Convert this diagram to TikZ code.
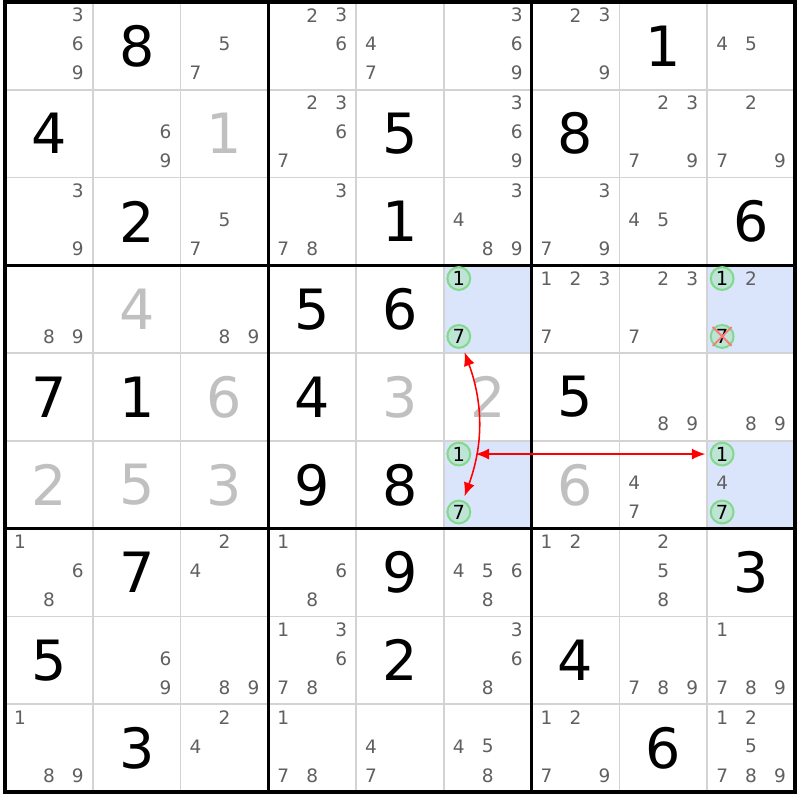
\documentclass[tikz,border=0pt]{standalone}
\usepackage{fontspec}
\setmainfont{DejaVu Sans}
\usepackage{tikz}
\usetikzlibrary{arrows.meta}
\definecolor{cellblue}{RGB}{218,228,250}
\definecolor{gridgray}{RGB}{211,211,211}
\definecolor{solvedgray}{RGB}{192,192,192}
\definecolor{candgray}{RGB}{96,96,96}
\definecolor{ringfill}{RGB}{190,228,214}
\definecolor{ringline}{RGB}{128,218,138}
\definecolor{crossred}{RGB}{255,120,120}
\tikzstyle{board}=[line cap=rect]
\tikzstyle{thin}=[draw=gridgray, line width=0.6pt]
\tikzstyle{box}=[draw=black, line width=1pt]
\tikzstyle{given}=[inner sep=0pt, font=\fontsize{18}{18}\selectfont, text=black]
\tikzstyle{solved}=[given, text=solvedgray]
\tikzstyle{cand}=[inner sep=0pt, font=\fontsize{6}{6}\selectfont, text=candgray]
\tikzstyle{ring}=[circle, inner sep=0pt, minimum size=7.4pt, draw=ringline, fill=ringfill, line width=0.65pt, font=\fontsize{6.3}{6.3}\selectfont, text=black]
\tikzstyle{link}=[red, line width=0.5pt, {Latex[length=4.4pt,width=3.6pt]}-{Latex[length=4.4pt,width=3.6pt]}, shorten >=1.4pt, shorten <=1.4pt]
\tikzstyle{cross}=[crossred, line width=0.6pt]

\begin{document}
\begin{tikzpicture}[board]
				\useasboundingbox[fill=white] (-0.057,-0.091) rectangle (9.057,9.023);
				
				%The shaded cells
				\foreach \r/\c in {4/6,6/6,4/9,6/9}
					\fill[cellblue] (\c-1,10-\r) rectangle (\c,9-\r);
				
				%The grid
				\foreach \i in {1,2,4,5,7,8} {
					\draw[thin] (\i,0) -- (\i,9);
					\draw[thin] (0,\i) -- (9,\i);
				}
				\foreach \i in {0,3,6,9} {
					\draw[box] (\i,0) -- (\i,9);
					\draw[box] (0,\i) -- (9,\i);
				}
				
				%The givens
				\foreach \r/\c/\d in {1/2/8,1/8/1,2/1/4,2/5/5,2/7/8,3/2/2,3/5/1,3/9/6,4/4/5,4/5/6,5/1/7,5/2/1,5/4/4,5/7/5,6/4/9,6/5/8,7/2/7,7/5/9,7/9/3,8/1/5,8/5/2,8/7/4,9/2/3,9/8/6}
					\draw (\c-0.5,9.5-\r) node[given] (g\r\c) {\d};
				
				%The solved cells
				\foreach \r/\c/\d in {2/3/1,4/2/4,5/3/6,5/5/3,5/6/2,6/1/2,6/2/5,6/3/3,6/7/6}
					\draw (\c-0.5,9.5-\r) node[solved] (s\r\c) {\d};
				
				%The candidates
				\foreach \r/\c/\ds in {1/1/{3,6,9},1/3/{5,7},1/4/{2,3,6},1/5/{4,7},1/6/{3,6,9},1/7/{2,3,9},1/9/{4,5},
						2/2/{6,9},2/4/{2,3,6,7},2/6/{3,6,9},2/8/{2,3,7,9},2/9/{2,7,9},
						3/1/{3,9},3/3/{5,7},3/4/{3,7,8},3/6/{3,4,8,9},3/7/{3,7,9},3/8/{4,5},
						4/1/{8,9},4/3/{8,9},4/7/{1,2,3,7},4/8/{2,3,7},4/9/{2},
						5/8/{8,9},5/9/{8,9},
						6/8/{4,7},6/9/{4},
						7/1/{1,6,8},7/3/{2,4},7/4/{1,6,8},7/6/{4,5,6,8},7/7/{1,2},7/8/{2,5,8},
						8/2/{6,9},8/3/{8,9},8/4/{1,3,6,7,8},8/6/{3,6,8},8/8/{7,8,9},8/9/{1,7,8,9},
						9/1/{1,8,9},9/3/{2,4},9/4/{1,7,8},9/5/{4,7},9/6/{4,5,8},9/7/{1,2,7,9},9/9/{1,2,5,7,8,9}}
					\foreach \d in \ds {
						\pgfmathsetmacro{\cx}{\c-0.83+0.33*mod(\d-1,3)}
						\pgfmathsetmacro{\cy}{9.85-\r-0.33*div(\d-1,3)}
						\draw (\cx,\cy) node[cand] (k\r\c\d) {\d};
					}
				
				%The chain
				\draw (5.17,5.85) node[ring] (k461) {1};
				\draw (5.17,5.19) node[ring] (k467) {7};
				\draw (5.17,3.85) node[ring] (k661) {1};
				\draw (5.17,3.19) node[ring] (k667) {7};
				\draw (8.17,5.85) node[ring] (k491) {1};
				\draw (8.17,5.19) node[ring] (k497) {7};
				\draw (8.17,3.85) node[ring] (k691) {1};
				\draw (8.17,3.19) node[ring] (k697) {7};
				
				\draw[cross] (k497.north west) -- (k497.south east);
				\draw[cross] (k497.north east) -- (k497.south west);
				
				\draw[link] (k661) -- (k691);
				\draw[link] (k467) to[bend left=20] (k667);
			\end{tikzpicture}
\end{document}
